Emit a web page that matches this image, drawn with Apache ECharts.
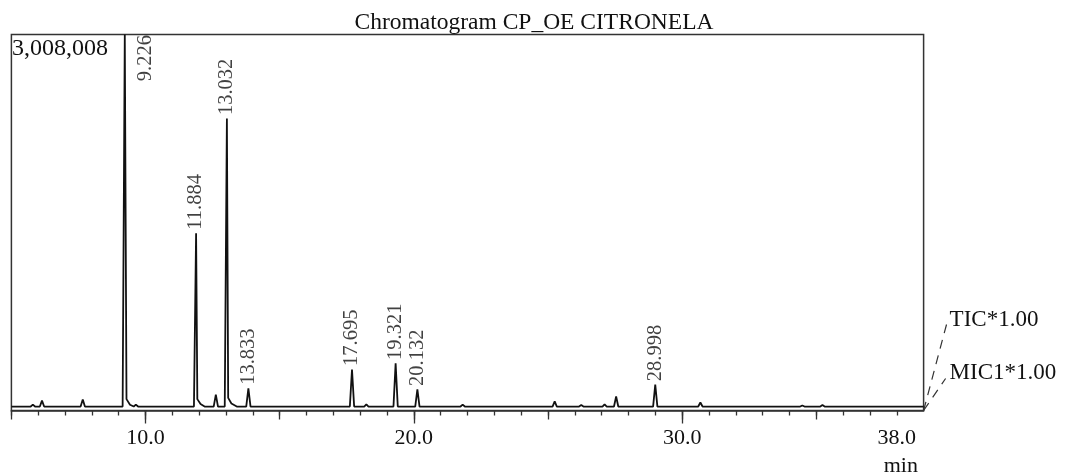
<!DOCTYPE html>
<html>
<head>
<meta charset="utf-8">
<title>Chromatogram CP_OE CITRONELA</title>
<script src="https://cdn.jsdelivr.net/npm/echarts@6/dist/echarts.min.js"></script>
<style>
  html, body { margin: 0; padding: 0; background: #fff; }
  #chart { width: 1068px; height: 472px; }
</style>
</head>
<body>
<div id="chart"></div>
<script>
// ---- data -------------------------------------------------------------
const chartTitle = 'Chromatogram CP_OE CITRONELA';
const fullScale = 3008008;            // intensity at the top of the frame
const timeRange = [5.0, 39.0];        // retention time window, min
const tickLabels = [10, 20, 30, 38];  // labelled positions on the time axis
const traceNames = ['TIC*1.00', 'MIC1*1.00'];

// peak apexes: retention time (min) and intensity (counts)
const peakTimes   = [5.80, 6.14, 7.66, 9.226, 9.64, 11.884, 12.62, 13.032, 13.833,
                     17.695, 18.23, 19.321, 20.132, 21.82, 25.25, 26.24, 27.11,
                     27.54, 28.998, 30.68, 34.48, 35.23];
const peakHeights = [15000, 48000, 57000, 3008008, 15000, 1402000, 96000, 2328000, 147000,
                     300000, 18000, 349000, 138000, 15000, 42000, 12000, 18000,
                     81000, 177000, 33000, 9000, 12000];

// tailing on the right flank of the three main peaks
const tailTimes   = [9.29, 9.42, 9.56, 11.93, 12.05, 12.20, 13.08, 13.20, 13.40];
const tailHeights = [60000, 15000, 0, 60000, 20000, 0, 70000, 25000, 0];

// peaks annotated with their retention time
const labelledPeaks = [9.226, 11.884, 13.032, 13.833, 17.695, 19.321, 20.132, 28.998];

// ---- build the trace ----------------------------------------------------
const halfWidth = 0.08;
const yMin = -32000;
const trace = [[timeRange[0], 0], [timeRange[1], 0]];
peakTimes.forEach((t, i) => {
  trace.push([t - halfWidth, 0], [t, peakHeights[i]]);
  const next = i + 1 < peakTimes.length ? peakTimes[i + 1] : timeRange[1];
  const tailed = tailTimes.some(tt => tt > t && tt < next);
  if (!tailed) trace.push([t + halfWidth, 0]);
});
tailTimes.forEach((t, i) => trace.push([t, tailHeights[i]]));
trace.sort((a, b) => a[0] - b[0]);

const minorTicks = [], mediumTicks = [], majorTicks = [];
for (let v = Math.ceil(timeRange[0]); v < timeRange[1]; v++) {
  if (v % 10 === 0) majorTicks.push(v);
  else if (v % 5 === 0) mediumTicks.push(v);
  else minorTicks.push(v);
}

const serif = '"Liberation Serif", "Times New Roman", serif';
const ink = '#111';

const labelData = labelledPeaks.map(t => {
  const item = { value: [t, peakHeights[peakTimes.indexOf(t)]] };
  if (t === labelledPeaks[0]) {
    // main peak runs off the top: its label hangs from the frame, right of the peak
    item.label = { position: [21, 1], align: 'right', verticalAlign: 'middle' };
  }
  return item;
});

function timeAxis(ticks, len, withLine, withLabels) {
  return {
    type: 'value', min: timeRange[0], max: timeRange[1],
    gridIndex: 0, position: 'bottom', offset: 0,
    axisLine: { show: withLine, onZero: false, lineStyle: { color: '#333', width: 1.5 } },
    axisTick: { show: true, length: len, customValues: ticks, lineStyle: { color: '#333', width: 1.3 } },
    axisLabel: withLabels ? {
      show: true, customValues: tickLabels, margin: 17,
      fontFamily: serif, fontSize: 22, color: ink,
      formatter: v => v.toFixed(1)
    } : { show: false },
    splitLine: { show: false }
  };
}

const chart = echarts.init(document.getElementById('chart'), null, { renderer: 'canvas' });
chart.setOption({
  animation: false,
  backgroundColor: '#fff',
  title: {
    text: chartTitle, left: 'center', top: 6,
    textStyle: { fontFamily: serif, fontSize: 23.5, fontWeight: 'normal', color: ink }
  },
  grid: {
    left: 11.4, right: 144.4, top: 34.5, bottom: 61.5,
    show: true, borderColor: '#333', borderWidth: 1.5, backgroundColor: 'transparent'
  },
  xAxis: [
    timeAxis(minorTicks.concat(mediumTicks, majorTicks), 5, true, true),
    timeAxis(mediumTicks.concat(majorTicks), 9, false, false),
    timeAxis(majorTicks, 13, false, false)
  ],
  yAxis: {
    type: 'value', min: yMin, max: fullScale, show: false
  },
  series: [
    {
      type: 'line', data: trace, showSymbol: false, clip: true,
      lineStyle: { color: '#111', width: 1.8 }
    },
    {
      type: 'scatter', data: labelData, symbolSize: 1,
      itemStyle: { color: 'rgba(0,0,0,0)' },
      label: {
        show: true, position: 'top', distance: 3, rotate: 90,
        align: 'left', verticalAlign: 'middle',
        fontFamily: serif, fontSize: 20.5, color: ink,
        formatter: p => p.value[0].toFixed(3)
      }
    }
  ]
});

// decorations tied to the frame: full-scale value, unit, trace names
const corner = chart.convertToPixel({ xAxisIndex: 0, yAxisIndex: 0 }, [timeRange[1], yMin]);
const topLeft = chart.convertToPixel({ xAxisIndex: 0, yAxisIndex: 0 }, [timeRange[0], fullScale]);
const lastTick = chart.convertToPixel({ xAxisIndex: 0, yAxisIndex: 0 }, [tickLabels[tickLabels.length - 1], yMin]);
const dash = { stroke: '#333', lineWidth: 1.2, lineDash: [9, 7] };
chart.setOption({
  graphic: [
    { type: 'text', x: topLeft[0] + 0.5, y: topLeft[1] + 2,
      style: { text: fullScale.toLocaleString('en-US'), fontFamily: serif, fontSize: 24,
               fill: ink, align: 'left', verticalAlign: 'top' } },
    { type: 'text', x: lastTick[0] + 4, y: 466,
      style: { text: 'min', fontFamily: serif, fontSize: 22, fill: ink,
               align: 'center', verticalAlign: 'middle' } },
    { type: 'line', shape: { x1: corner[0], y1: corner[1], x2: corner[0] + 24, y2: corner[1] - 90 }, style: dash },
    { type: 'line', shape: { x1: corner[0], y1: corner[1], x2: corner[0] + 22, y2: corner[1] - 32 }, style: dash },
    { type: 'text', x: corner[0] + 26, y: corner[1] - 91,
      style: { text: traceNames[0], fontFamily: serif, fontSize: 23, fill: ink,
               align: 'left', verticalAlign: 'middle' } },
    { type: 'text', x: corner[0] + 26, y: corner[1] - 38,
      style: { text: traceNames[1], fontFamily: serif, fontSize: 23, fill: ink,
               align: 'left', verticalAlign: 'middle' } }
  ]
});
</script>
</body>
</html>
